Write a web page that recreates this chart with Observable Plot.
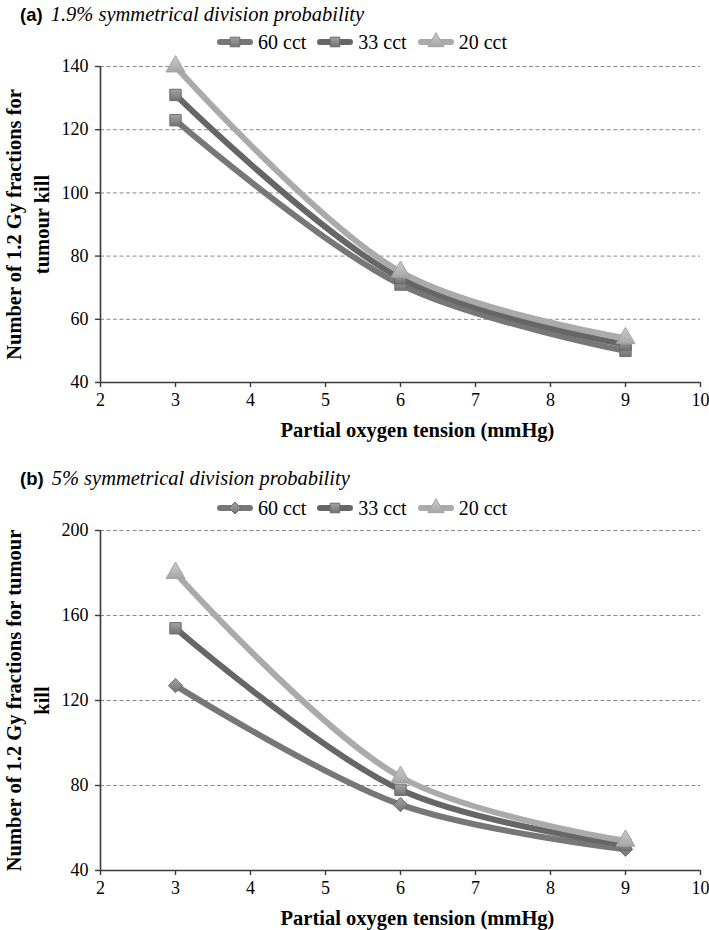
<!DOCTYPE html>
<html>
<head>
<meta charset="utf-8">
<script src="https://cdn.jsdelivr.net/npm/d3@7"></script>
<script src="https://cdn.jsdelivr.net/npm/@observablehq/plot@0.6"></script>
<style>
  html, body { margin: 0; padding: 0; background: #fff; }
  #wrap { position: relative; width: 709px; height: 930px; background: #fff; overflow: hidden; }
  .title { position: absolute; left: 20px; font-size: 20.5px; line-height: 24px; white-space: nowrap; color: #000; }
  .title b { font-family: "Liberation Sans", Arial, sans-serif; font-size: 18.5px; margin-right: 8px; }
  .title i { font-family: "Liberation Serif", "DejaVu Serif", serif; font-style: italic; }
  .legend { position: absolute; left: 216px; display: flex; align-items: center; font-family: "Liberation Serif", "DejaVu Serif", serif; font-size: 20px; line-height: 22px; white-space: nowrap; color: #000; }
  .legend .item { display: flex; align-items: center; margin-right: 10px; }
  .legend svg { margin-right: 4px; overflow: visible; }
  .plot { position: absolute; left: 0; }
</style>
</head>
<body>
<svg width="0" height="0" style="position:absolute">
  <defs>
    <linearGradient id="gSquare" x1="0" y1="0" x2="0" y2="1">
      <stop offset="0" stop-color="#a4a4a4"/>
      <stop offset="1" stop-color="#727272"/>
    </linearGradient>
    <linearGradient id="gTri" x1="0" y1="0" x2="0" y2="1">
      <stop offset="0" stop-color="#cdcdcd"/>
      <stop offset="1" stop-color="#a6a6a6"/>
    </linearGradient>
  </defs>
</svg>
<div id="wrap"></div>
<script>
// ---------- data ----------
const xValues = [3, 6, 9];
const seriesNames = ["60 cct", "33 cct", "20 cct"];

// (a) 1.9% symmetrical division probability
const a60 = [123, 71, 50];
const a33 = [131, 73, 52];
const a20 = [140, 75, 54];

// (b) 5% symmetrical division probability
const b60 = [127, 71, 50];
const b33 = [154, 78, 52];
const b20 = [180, 84, 54];

const xTicks = [2, 3, 4, 5, 6, 7, 8, 9, 10];
const yTicksA = [40, 60, 80, 100, 120, 140];
const yTicksB = [40, 80, 120, 160, 200];

const titleA = "1.9% symmetrical division probability";
const titleB = "5% symmetrical division probability";
const xLabel = "Partial oxygen tension (mmHg)";
const yLabelA = "Number of 1.2 Gy fractions for\ntumour kill";
const yLabelB = "Number of 1.2 Gy fractions for tumour\nkill";

// ---------- styles ----------
const lineColors = ["#777777", "#666666", "#aaaaaa"];
const markFill = ["url(#gSquare)", "url(#gSquare)", "url(#gTri)"];
const markStroke = ["#6c6c6c", "#6a6a6a", "#a2a2a2"];
const symbolsA = ["square", "square", "triangle"];
const symbolsB = ["diamond2", "square", "triangle"];
const serif = "'Liberation Serif', 'DejaVu Serif', serif";

function rows(vals, name) {
  return xValues.map((x, i) => ({x, y: vals[i], series: name}));
}

function makePlot(seriesVals, symbols, yDomain, yTicks, frameH, yLabel) {
  const marks = [
    Plot.gridY(yTicks.filter(t => t > yDomain[0]), {stroke: "#8a8a8a", strokeOpacity: 1, strokeWidth: 1, strokeDasharray: "4,2.5"}),
    Plot.ruleY([yDomain[0]], {stroke: "#3a3a3a", strokeWidth: 1.6}),
    Plot.ruleX([2], {stroke: "#3a3a3a", strokeWidth: 1.6}),
    Plot.axisY(yTicks, {tickSize: 5, tickPadding: 7, fontSize: 18, fontFamily: serif, stroke: "#3a3a3a", strokeWidth: 1.4, label: null}),
    Plot.axisX(xTicks, {tickSize: 5, tickPadding: 6, fontSize: 18, fontFamily: serif, stroke: "#3a3a3a", strokeWidth: 1.4, label: null}),
    Plot.text([yLabel], {frameAnchor: "left", dx: -74, rotate: -90, fontSize: 20.5, fontFamily: serif, fontWeight: "bold", lineHeight: 1.36, textAnchor: "middle", lineAnchor: "middle", fill: "#000"}),
    Plot.text([xLabel], {frameAnchor: "bottom", dx: 17, dy: 48, fontSize: 20.5, fontFamily: serif, fontWeight: "bold", lineAnchor: "middle", textAnchor: "middle", fill: "#000"})
  ];
  seriesVals.forEach((vals, i) => {
    const d = rows(vals, seriesNames[i]);
    marks.push(Plot.line(d, {x: "x", y: "y", stroke: lineColors[i], strokeWidth: 6, curve: "catmull-rom", strokeLinecap: "round", strokeLinejoin: "round"}));
    marks.push(Plot.dot(d, {x: "x", y: "y", symbol: () => symbols[i], r: symbols[i] === "triangle" ? 7 : 6.4, fill: markFill[i], stroke: markStroke[i], strokeWidth: 1}));
  });
  return Plot.plot({
    width: 709,
    height: 10 + frameH + 60,
    marginTop: 10,
    marginBottom: 60,
    marginLeft: 100,
    marginRight: 9,
    x: {domain: [2, 10]},
    y: {domain: yDomain},
    symbol: {type: "identity"},
    style: {fontFamily: serif, fontSize: "18px", color: "#000", background: "transparent", overflow: "visible"},
    marks
  });
}

function legend(symbols, top) {
  const div = document.createElement("div");
  div.className = "legend";
  div.style.top = top + "px";
  const symMap = {square: d3.symbolSquare, triangle: d3.symbolTriangle, diamond2: d3.symbolDiamond2 || d3.symbolDiamond};
  seriesNames.forEach((name, i) => {
    const item = document.createElement("span");
    item.className = "item";
    const svg = d3.create("svg").attr("width", 38).attr("height", 16);
    svg.append("line").attr("x1", 4).attr("x2", 34).attr("y1", 8).attr("y2", 8)
      .attr("stroke", lineColors[i]).attr("stroke-width", 6).attr("stroke-linecap", "round");
    const r = symbols[i] === "triangle" ? 6.0 : 5.4;
    svg.append("path").attr("transform", "translate(19,8)")
      .attr("d", d3.symbol(symMap[symbols[i]], Math.PI * r * r)())
      .attr("fill", markFill[i]).attr("stroke", markStroke[i]).attr("stroke-width", 1);
    item.appendChild(svg.node());
    const t = document.createElement("span");
    t.textContent = name;
    item.appendChild(t);
    div.appendChild(item);
  });
  return div;
}

function title(letter, text, top) {
  const div = document.createElement("div");
  div.className = "title";
  div.style.top = top + "px";
  const b = document.createElement("b"); b.textContent = letter;
  const i = document.createElement("i"); i.textContent = text;
  div.appendChild(b); div.appendChild(i);
  return div;
}

const wrap = document.getElementById("wrap");
wrap.appendChild(title("(a)", titleA, 2));
wrap.appendChild(legend(symbolsA, 31));
const pa = makePlot([a60, a33, a20], symbolsA, [40, 140], yTicksA, 316, yLabelA);
pa.classList.add("plot"); pa.style.top = "56px"; pa.style.position = "absolute";
wrap.appendChild(pa);

wrap.appendChild(title("(b)", titleB, 466));
wrap.appendChild(legend(symbolsB, 497));
const pb = makePlot([b60, b33, b20], symbolsB, [40, 200], yTicksB, 340, yLabelB);
pb.classList.add("plot"); pb.style.top = "520px"; pb.style.position = "absolute";
wrap.appendChild(pb);
</script>
</body>
</html>
